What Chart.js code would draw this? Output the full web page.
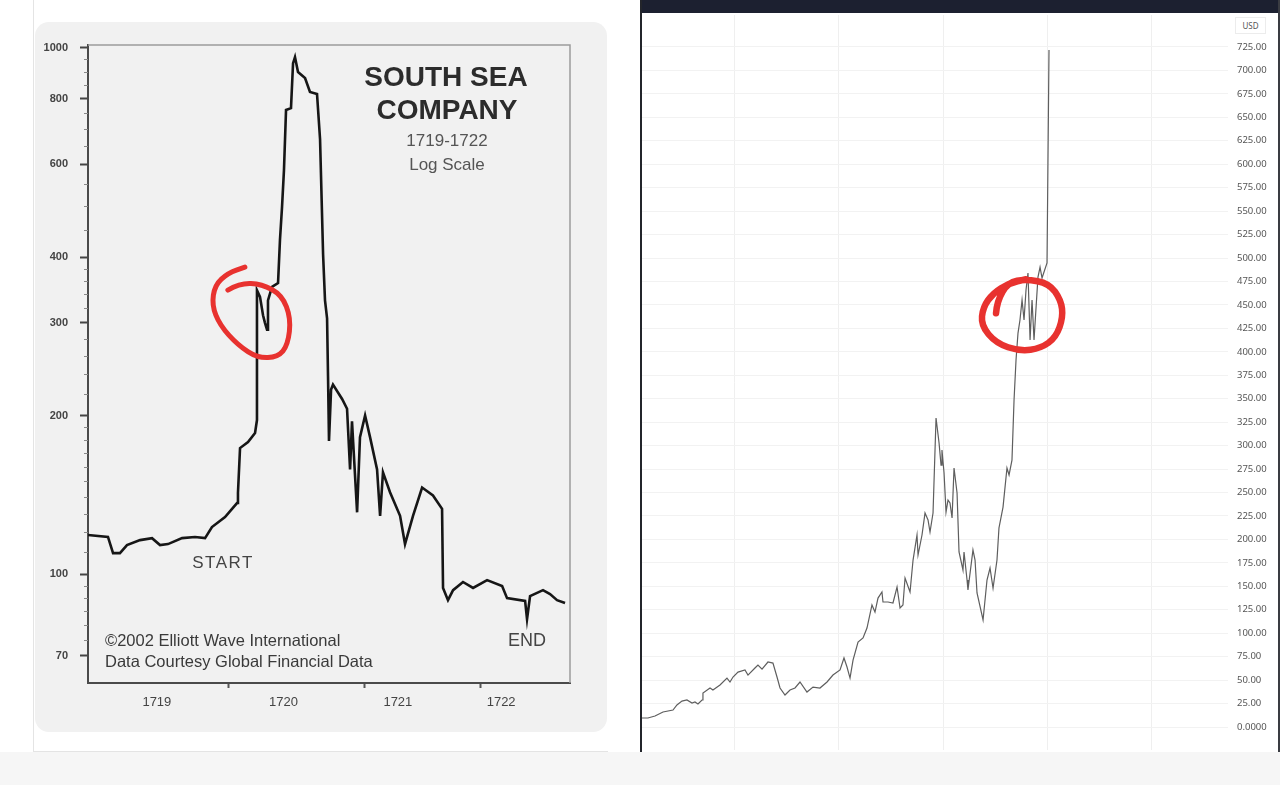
<!DOCTYPE html>
<html><head><meta charset="utf-8">
<script src="https://cdn.jsdelivr.net/npm/chart.js@4.4.1/dist/chart.umd.min.js"></script>
<style>
html,body{margin:0;padding:0;}
body{width:1280px;height:785px;background:#ffffff;position:relative;overflow:hidden;font-family:"Liberation Sans",Arial,sans-serif;}
#bottomStrip{position:absolute;left:0;top:752px;width:1280px;height:33px;background:#f6f6f6;}
#leftCard{position:absolute;left:33px;top:0;width:574px;height:751px;background:#fff;border-left:1px solid #e4e4e4;border-bottom:1px solid #e4e4e4;}
#leftPanel{position:absolute;left:35px;top:22px;width:572px;height:710px;background:#f1f1f1;border-radius:14px;overflow:hidden;}
#c1{position:absolute;left:0;top:0;}
#rightPanel{position:absolute;left:640px;top:0;width:640px;height:752px;background:#fff;}
#topBar{position:absolute;left:0;top:0;width:640px;height:13px;background:#1c2030;}
#leftBorder{position:absolute;left:0;top:0;width:2px;height:752px;background:#23252b;}
#rightBorder{position:absolute;left:638px;top:0;width:2px;height:752px;background:#3a3c42;}
#c2{position:absolute;left:2px;top:13px;}
#usd{position:absolute;left:595px;top:17px;width:29px;height:15px;border:1px solid #ececec;background:#fff;font-family:"Noto Sans",sans-serif;font-size:8px;color:#555;text-align:center;line-height:15px;}
.t{position:absolute;transform:translate(-50%,-50%);white-space:nowrap;color:#333;}
.l{position:absolute;transform:translate(0,-50%);white-space:nowrap;color:#3a3a3a;}
</style></head>
<body>
<div id="bottomStrip"></div>
<div id="leftCard"></div>
<div id="leftPanel"><canvas id="c1" width="572" height="710"></canvas></div>
<div id="rightPanel"><div id="topBar"></div><div id="leftBorder"></div><div id="rightBorder"></div><canvas id="c2" width="636" height="739"></canvas><div id="usd">USD</div></div>

<div class="t" style="left:446px;top:77px;font-size:28px;font-weight:bold;color:#2c2c2c;">SOUTH SEA</div>
<div class="t" style="left:447px;top:110px;font-size:28px;font-weight:bold;color:#2c2c2c;">COMPANY</div>
<div class="t" style="left:447px;top:141px;font-size:17px;color:#555;">1719-1722</div>
<div class="t" style="left:447px;top:165px;font-size:17px;color:#555;">Log Scale</div>
<div class="t" style="left:223px;top:563px;font-size:17px;letter-spacing:1.5px;color:#444;">START</div>
<div class="t" style="left:527px;top:640px;font-size:18px;color:#444;">END</div>
<div class="l" style="left:105px;top:640px;font-size:16.5px;">©2002 Elliott Wave International</div>
<div class="l" style="left:105px;top:661px;font-size:16.5px;">Data Courtesy Global Financial Data</div>

<script>
// ---------- Left chart: South Sea Company 1719-1722 (log scale) ----------
const ssYears = [1719.000,1719.145,1719.182,1719.232,1719.283,1719.378,1719.465,1719.523,1719.581,1719.683,
  1719.777,1719.850,1719.900,1719.995,1720.082,1720.089,1720.104,1720.162,1720.213,1720.227,
  1720.227,1720.249,1720.271,1720.285,1720.300,1720.307,1720.336,1720.380,1720.394,1720.409,
  1720.423,1720.438,1720.474,1720.489,1720.503,1720.525,1720.576,1720.612,1720.663,1720.685,
  1720.707,1720.721,1720.736,1720.743,1720.750,1720.765,1720.779,1720.845,1720.881,1720.903,
  1720.917,1720.954,1720.975,1721.012,1721.048,1721.099,1721.121,1721.142,1721.193,1721.266,
  1721.302,1721.360,1721.426,1721.505,1721.571,1721.578,1721.614,1721.651,1721.723,1721.796,
  1721.898,1722.007,1722.043,1722.174,1722.188,1722.210,1722.304,1722.355,1722.406,1722.464];
const ssPrices = [118.6,117.6,109.6,109.6,113.5,116.0,117.0,113.5,114.0,117.0,
  117.6,117.0,122.8,128.3,136.4,142.5,173.5,178.1,185.3,196.1,
  346,336,310,300,291,331,351,357,431,498,
  585,761,767,934,959,898,875,823,816,670,
  405,331,306,237,179,224,229,215,206,158,
  195,131,182,200,182,158,129,156,143,129,
  114,129,146,141,133,94.1,89.2,93.2,96.6,94.1,
  97.4,94.9,90.0,88.9,82.1,90.8,93.2,91.6,89.2,88.1];
const ssTickValues = [70,100,200,300,400,600,800,1000];
const ssMinorTicks = [75,80,85,90,95,110,120,130,140,150,160,170,180,190,220,240,260,280,320,340,360,380,450,500,550,650,700,750,850,900,950];
const ssYearLabels = ['1719','1720','1721','1722'];
const ssYearLabelPos = [1719.5,1720.42,1721.25,1722.0];
const ssYearMarks = [1720.02,1721.01,1721.85];
const ssCircleCenter = {x:1720.19, y:309};

// ---------- Right chart: USD price ----------
const usdX = [0.106,0.163,0.231,0.308,0.404,0.442,0.490,0.538,0.587,0.615,
  0.644,0.683,0.692,0.760,0.788,0.856,0.923,0.952,0.981,1.029,
  1.096,1.125,1.192,1.221,1.260,1.317,1.365,1.404,1.433,1.481,
  1.529,1.577,1.625,1.692,1.750,1.817,1.885,1.942,2.010,2.048,
  2.077,2.106,2.135,2.183,2.231,2.269,2.317,2.346,2.375,2.413,
  2.423,2.471,2.519,2.558,2.587,2.615,2.635,2.683,2.712,2.750,
  2.760,2.798,2.827,2.856,2.875,2.904,2.933,2.962,2.981,2.990,
  3.010,3.029,3.048,3.067,3.087,3.106,3.135,3.154,3.192,3.202,
  3.231,3.240,3.288,3.308,3.327,3.385,3.423,3.452,3.481,3.519,
  3.538,3.577,3.615,3.635,3.663,3.683,3.702,3.721,3.740,3.760,
  3.779,3.798,3.817,3.837,3.856,3.875,3.913,3.933,3.952,4.000,4.019];
const usdPrices = [9.6,9.6,11.7,16.0,18.1,23.5,27.7,28.8,25.6,26.7,
  24.5,28.8,36.2,41.6,39.4,44.8,52.2,48.0,53.3,58.6,
  60.8,55.4,62.9,66.1,61.8,69.3,68.2,53.3,41.6,34.1,
  39.4,41.6,48.0,37.3,42.6,41.6,48.0,55.4,60.8,73.6,
  64.0,52.2,71.4,90.6,94.9,105.5,130.1,122.6,137.5,143.9,
  133.3,133.3,132.2,149.3,126.9,130.1,158.8,143.9,178.0,204.7,
  183.4,204.7,228.1,220.7,207.9,228.1,329.4,302.8,279.3,295.3,
  270.8,229.2,242.0,238.8,222.8,276.1,249.5,186.6,167.4,186.6,
  156.7,146.1,188.7,178.0,142.9,114.1,156.7,169.5,148.2,178.0,
  212.2,234.5,276.1,268.7,284.6,348.6,391.3,420.0,433.9,455.2,
  433.9,465.9,484.0,412.6,455.2,412.6,479.7,490.4,478.7,494.7,721.7];
const usdTicks = [0,25,50,75,100,125,150,175,200,225,250,275,300,325,350,375,400,425,450,475,500,525,550,575,600,625,650,675,700,725];
const usdGridX = [1,2,3,4,5];
const usdCircleCenter = {x:3.75, y:439};

// ---------- helpers ----------
function handLoop(ctx, cx, cy, pts, width){
  ctx.save();
  ctx.strokeStyle = '#e8322f';
  ctx.lineWidth = width;
  ctx.lineCap = 'round';
  ctx.lineJoin = 'round';
  ctx.beginPath();
  const P = pts.map(p => [cx + p[0], cy + p[1]]);
  ctx.moveTo(P[0][0], P[0][1]);
  for (let i = 1; i < P.length - 1; i++) {
    const mx = (P[i][0] + P[i+1][0]) / 2, my = (P[i][1] + P[i+1][1]) / 2;
    ctx.quadraticCurveTo(P[i][0], P[i][1], mx, my);
  }
  ctx.lineTo(P[P.length-1][0], P[P.length-1][1]);
  ctx.stroke();
  ctx.restore();
}
function noEdgePadding(s){ s.paddingTop = 0; s.paddingBottom = 0; s.paddingLeft = 0; s.paddingRight = 0; }

const leftDecor = {
  id: 'leftDecor',
  afterDatasetsDraw(chart) {
    const {ctx, chartArea: a, scales} = chart;
    ctx.save();
    ctx.strokeStyle = '#9c9c9c';
    ctx.lineWidth = 1.5;
    ctx.beginPath();
    ctx.moveTo(a.left, a.top); ctx.lineTo(a.right, a.top); ctx.lineTo(a.right, a.bottom);
    ctx.stroke();
    ctx.strokeStyle = '#888';
    ctx.lineWidth = 1;
    ssMinorTicks.forEach(v => {
      const y = Math.round(scales.y.getPixelForValue(v)) + 0.5;
      ctx.beginPath(); ctx.moveTo(a.left - 4, y); ctx.lineTo(a.left, y); ctx.stroke();
    });
    ctx.restore();
    const cx = scales.x.getPixelForValue(ssCircleCenter.x);
    const cy = scales.y.getPixelForValue(ssCircleCenter.y);
    handLoop(ctx, cx, cy, [[-24,-26],[-12,-33],[10,-32],[30,-21],[39,2],[36,29],[26,41],[6,42],[-14,29],[-32,9],[-40,-11],[-37,-31],[-24,-43],[-7,-49]], 5);
  }
};

const rightDecor = {
  id: 'rightDecor',
  afterDatasetsDraw(chart) {
    const {ctx, scales} = chart;
    const cx = scales.x.getPixelForValue(usdCircleCenter.x);
    const cy = scales.y.getPixelForValue(usdCircleCenter.y);
    handLoop(ctx, cx, cy, [[-25,-2],[-24,-14],[-13,-33],[5,-36],[28,-32],[40,-15],[42,2],[35,22],[20,33],[-1,36],[-25,28],[-40,10],[-38,-8],[-28,-22],[-12,-32],[5,-36]], 6.5);
  }
};

Chart.defaults.font.family = '"Liberation Sans", Arial, sans-serif';

new Chart(document.getElementById('c1'), {
  type: 'line',
  data: { datasets: [{
    data: ssYears.map((x, i) => ({x, y: ssPrices[i]})),
    borderColor: '#161616', borderWidth: 2.6, pointRadius: 0, tension: 0, fill: false
  }]},
  options: {
    responsive: false, animation: false, devicePixelRatio: 1,
    layout: { padding: { top: 23, right: 37, left: 0, bottom: 0 } },
    plugins: { legend: { display: false }, tooltip: { enabled: false } },
    scales: {
      x: {
        type: 'linear', min: 1719.0, max: 1722.5,
        afterBuildTicks: s => { s.ticks = ssYearLabelPos.concat(ssYearMarks).sort((a,b)=>a-b).map(v => ({value: v})); },
        ticks: { autoSkip: false, maxRotation: 0, padding: 7, color: '#444', font: { size: 13 },
          callback: v => { const i = ssYearLabelPos.indexOf(v); return i >= 0 ? ssYearLabels[i] : ''; } },
        grid: { display: true, drawOnChartArea: false, drawTicks: true, tickLength: 5, tickWidth: 2,
          tickColor: c => (c.tick && ssYearMarks.includes(c.tick.value)) ? '#555' : 'rgba(0,0,0,0)' },
        border: { display: true, color: '#4a4a4a', width: 2 },
        afterFit: s => { s.height = 49; noEdgePadding(s); }
      },
      y: {
        type: 'logarithmic', min: 62.1, max: 1011,
        afterBuildTicks: s => { s.ticks = ssTickValues.map(v => ({value: v})); },
        ticks: { autoSkip: false, padding: 12, color: '#444', font: { size: 11, weight: 'bold' }, callback: v => String(v) },
        grid: { drawOnChartArea: false, drawTicks: true, tickLength: 8, tickWidth: 2, tickColor: '#444' },
        border: { display: true, color: '#4a4a4a', width: 2 },
        afterFit: s => { s.width = 53; noEdgePadding(s); }
      }
    }
  },
  plugins: [leftDecor]
});

new Chart(document.getElementById('c2'), {
  type: 'line',
  data: { datasets: [{
    data: usdX.map((x, i) => ({x, y: usdPrices[i]})),
    borderColor: '#5e5e5e', borderWidth: 1.2, pointRadius: 0, tension: 0, fill: false
  }]},
  options: {
    responsive: false, animation: false, devicePixelRatio: 1,
    layout: { padding: { top: 2, right: 0, left: 0, bottom: 0 } },
    plugins: { legend: { display: false }, tooltip: { enabled: false } },
    scales: {
      x: {
        type: 'linear', min: 0.106, max: 5.74,
        afterBuildTicks: s => { s.ticks = usdGridX.map(v => ({value: v})); },
        ticks: { display: false },
        grid: { color: '#efefef', drawTicks: false, lineWidth: 1 },
        border: { display: false },
        afterFit: s => { s.height = 2; noEdgePadding(s); }
      },
      y: {
        position: 'right', min: -24.5, max: 759.1,
        afterBuildTicks: s => { s.ticks = usdTicks.map(v => ({value: v})); },
        ticks: { autoSkip: false, padding: 9, color: '#555', font: { size: 9.5, family: '"Noto Sans", sans-serif' },
          callback: v => v === 0 ? '0.0000' : v.toFixed(2) },
        grid: { color: '#f2f2f2', drawTicks: false, lineWidth: 1 },
        border: { display: false },
        afterFit: s => { s.width = 50; noEdgePadding(s); }
      }
    }
  },
  plugins: [rightDecor]
});
</script>
</body></html>
